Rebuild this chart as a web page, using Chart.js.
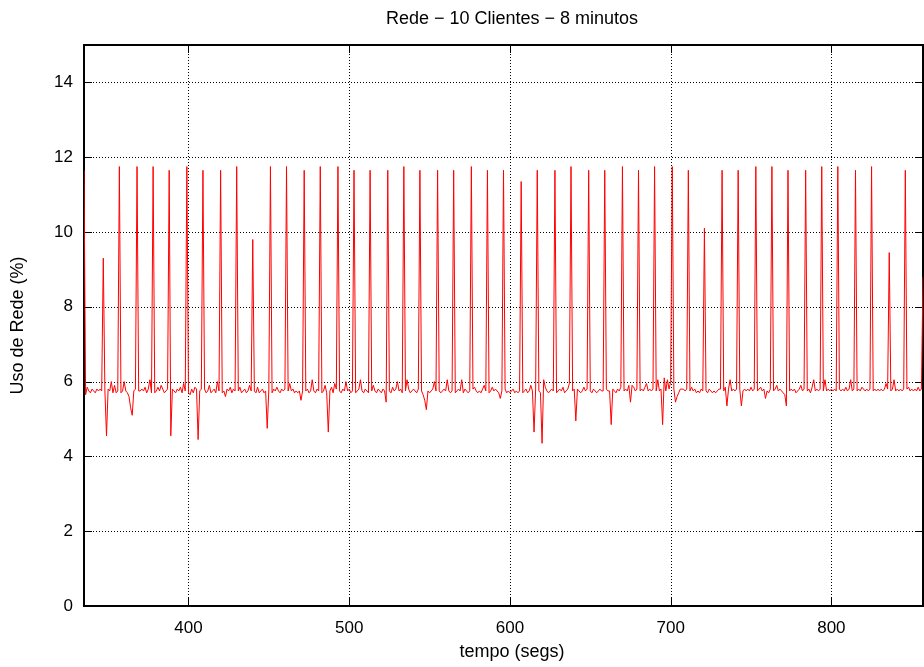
<!DOCTYPE html>
<html>
<head>
<meta charset="utf-8">
<title>Rede - 10 Clientes - 8 minutos</title>
<script src="https://cdn.jsdelivr.net/npm/chart.js@4.4.1/dist/chart.umd.min.js"></script>
<style>
  html, body { margin: 0; padding: 0; background: #fff; }
  canvas { display: block; }
</style>
</head>
<body>
<canvas id="chart" width="924" height="667"></canvas>
<script>
// first sample second, then one value per second (Uso de Rede %)
const startSecond = 335;
const usage = [
  11.65, 5.65, 5.85, 5.75, 5.7, 5.8, 5.75, 5.7, 5.8, 5.75,
  5.8, 5.75, 9.3, 5.75, 4.55, 5.8, 5.75, 6.0, 5.7, 5.9,
  5.7, 5.75, 11.75, 5.7, 5.75, 6.0, 5.75, 5.7, 5.6, 5.3,
  5.1, 5.75, 5.8, 11.75, 5.75, 5.75, 5.8, 5.75, 5.85, 5.7,
  5.8, 6.05, 5.7, 11.75, 5.7, 5.75, 5.85, 5.75, 5.9, 5.8,
  5.7, 5.75, 5.8, 11.65, 4.55, 5.8, 5.75, 5.7, 5.8, 5.75,
  5.85, 5.7, 5.95, 5.75, 11.75, 5.7, 5.65, 5.8, 5.7, 5.85,
  5.8, 4.45, 5.75, 5.8, 11.65, 5.8, 5.7, 5.75, 5.9, 5.7,
  5.75, 5.8, 5.7, 6.0, 5.75, 11.65, 5.7, 5.75, 5.6, 5.8,
  5.75, 5.85, 5.7, 5.8, 5.75, 11.75, 5.75, 5.85, 5.7, 5.75,
  5.8, 5.7, 5.75, 5.9, 5.75, 9.8, 5.75, 5.7, 5.85, 5.7,
  5.75, 5.8, 5.7, 5.75, 4.75, 5.8, 11.75, 5.7, 5.8, 5.75,
  5.85, 5.75, 5.7, 5.8, 5.75, 5.8, 11.75, 5.75, 5.95, 5.75,
  5.8, 5.7, 5.75, 5.7, 5.75, 5.5, 5.75, 11.65, 5.75, 5.8,
  5.7, 5.75, 6.05, 5.75, 5.7, 5.8, 5.75, 11.75, 5.7, 5.75,
  5.9, 5.7, 4.65, 5.75, 5.85, 5.7, 5.95, 5.8, 11.75, 5.75,
  5.7, 5.8, 5.75, 6.0, 5.75, 5.8, 5.7, 5.75, 11.65, 5.7,
  5.75, 5.8, 6.05, 5.75, 5.7, 5.8, 5.75, 5.7, 11.65, 5.75,
  5.9, 5.75, 5.7, 5.8, 5.75, 5.7, 5.8, 5.75, 5.45, 11.65,
  5.75, 5.7, 5.85, 5.75, 5.8, 6.0, 5.75, 5.8, 5.7, 11.75,
  5.75, 6.05, 5.8, 5.7, 5.75, 5.8, 5.75, 5.7, 5.8, 11.65,
  5.75, 5.65, 5.5, 5.25, 5.75, 5.7, 5.75, 5.8, 6.0, 5.75,
  11.65, 5.75, 5.7, 5.75, 5.8, 5.75, 6.05, 5.75, 5.7, 5.75,
  11.65, 5.7, 5.75, 5.8, 5.75, 6.05, 5.7, 5.8, 5.75, 5.7,
  5.75, 11.75, 5.8, 5.85, 5.75, 5.7, 5.75, 5.7, 5.8, 5.9,
  5.75, 11.65, 5.7, 5.75, 5.85, 5.75, 5.8, 5.75, 5.7, 5.55,
  5.75, 11.65, 5.8, 5.7, 5.75, 5.7, 5.75, 5.8, 5.7, 5.75,
  5.7, 5.75, 11.35, 5.7, 5.75, 5.8, 5.7, 5.75, 5.9, 5.75,
  4.65, 5.8, 11.65, 5.75, 5.7, 4.35, 6.05, 5.85, 5.75, 5.7,
  5.75, 5.8, 5.75, 11.65, 5.7, 5.75, 5.8, 5.75, 5.85, 5.7,
  5.75, 5.8, 5.95, 11.75, 5.75, 5.8, 4.95, 5.8, 5.75, 5.7,
  5.75, 5.85, 5.75, 5.8, 11.65, 5.75, 5.7, 5.8, 5.75, 5.7,
  5.75, 5.8, 5.75, 5.75, 11.65, 5.8, 5.75, 5.75, 4.85, 5.8,
  5.75, 5.7, 5.8, 5.75, 5.85, 11.75, 5.75, 5.8, 5.75, 5.9,
  5.45, 5.9, 5.85, 5.75, 5.8, 11.65, 5.75, 5.8, 5.75, 5.85,
  5.95, 5.75, 5.8, 5.75, 5.8, 11.75, 5.75, 6.05, 5.75, 5.8,
  4.85, 6.1, 5.75, 6.05, 5.8, 6.0, 11.75, 5.8, 5.45, 5.6,
  5.7, 5.8, 5.8, 5.8, 5.75, 5.8, 11.65, 5.75, 5.85, 5.75,
  5.8, 5.7, 5.75, 5.7, 5.8, 5.75, 10.1, 5.75, 5.7, 5.8,
  5.75, 5.7, 5.75, 5.7, 5.75, 5.8, 5.8, 11.65, 5.75, 5.85,
  5.35, 5.8, 6.05, 5.75, 5.8, 5.75, 5.8, 11.65, 5.8, 5.35,
  5.75, 5.8, 5.75, 5.8, 5.75, 5.85, 5.75, 5.8, 11.75, 5.75,
  5.8, 5.85, 5.75, 5.8, 5.55, 5.75, 5.7, 5.8, 11.75, 5.75,
  5.8, 5.9, 5.75, 5.8, 5.75, 5.7, 5.65, 5.35, 11.65, 5.75,
  5.8, 5.75, 5.8, 5.7, 5.75, 5.8, 5.9, 5.75, 5.8, 11.65,
  5.75, 5.8, 5.7, 5.85, 6.05, 5.75, 5.8, 5.75, 5.8, 11.75,
  5.75, 6.05, 5.75, 5.8, 5.75, 5.8, 5.75, 5.8, 5.75, 11.75,
  5.8, 5.75, 5.8, 5.75, 5.85, 5.75, 5.8, 6.05, 5.75, 5.8,
  11.65, 5.75, 5.8, 5.75, 5.85, 5.8, 5.75, 5.8, 5.75, 5.8,
  11.75, 5.75, 5.8, 5.75, 5.8, 5.75, 5.8, 5.75, 5.8, 5.95,
  5.8, 9.45, 5.75, 5.8, 6.05, 5.75, 5.8, 5.75, 5.8, 5.75,
  5.8, 11.65, 5.8, 5.85, 5.75, 5.8, 5.75, 5.8, 5.75, 5.85,
  5.75, 5.8, 8.8
];

const xTickValues = [400, 500, 600, 700, 800];
const yTickValues = [0, 2, 4, 6, 8, 10, 12, 14];

const chartTitle = 'Rede \u2212 10 Clientes \u2212 8 minutos';
const xTitle = 'tempo (segs)';
const yTitle = 'Uso de Rede (%)';

const fontFamily = '"Liberation Sans", Arial, Helvetica, sans-serif';
const tickFont = { family: fontFamily, size: 17, weight: 'normal' };
const titleFont = { family: fontFamily, size: 18, weight: 'normal' };

const points = usage.map(function(v, i) { return { x: startSecond + i, y: v }; });

// gnuplot style: dotted grid, black frame, ticks pointing inwards on all sides
const framePlugin = {
    id: 'gnuplotFrame',
    beforeDatasetsDraw(chart) {
        const ctx = chart.ctx;
        const a = chart.chartArea;
        const xs = chart.scales.x;
        const ys = chart.scales.y;
        const tick = 8;
        ctx.save();
        ctx.strokeStyle = '#000';
        ctx.lineWidth = 1;

        ctx.setLineDash([1, 2]);
        ctx.beginPath();
        xTickValues.forEach(function(v) {
            const px = Math.round(xs.getPixelForValue(v)) + 0.5;
            ctx.moveTo(px, a.top);
            ctx.lineTo(px, a.bottom);
        });
        yTickValues.forEach(function(v) {
            const py = Math.round(ys.getPixelForValue(v)) + 0.5;
            ctx.moveTo(a.left, py);
            ctx.lineTo(a.right, py);
        });
        ctx.stroke();

        ctx.setLineDash([]);
        ctx.beginPath();
        xTickValues.forEach(function(v) {
            const px = Math.round(xs.getPixelForValue(v)) + 0.5;
            ctx.moveTo(px, a.bottom);
            ctx.lineTo(px, a.bottom - tick);
            ctx.moveTo(px, a.top);
            ctx.lineTo(px, a.top + tick);
        });
        yTickValues.forEach(function(v) {
            const py = Math.round(ys.getPixelForValue(v)) + 0.5;
            ctx.moveTo(a.left, py);
            ctx.lineTo(a.left + tick, py);
            ctx.moveTo(a.right, py);
            ctx.lineTo(a.right - tick, py);
        });
        ctx.stroke();

        ctx.lineWidth = 2;
        ctx.strokeRect(Math.round(a.left), Math.round(a.top), Math.round(a.right - a.left), Math.round(a.bottom - a.top));
        ctx.restore();
    },
    afterDraw(chart) {
        // title and x label sit a bit right of the plot centre, as in the original
        const ctx = chart.ctx;
        ctx.save();
        ctx.fillStyle = '#000';
        ctx.font = titleFont.size + 'px ' + fontFamily;
        ctx.textAlign = 'center';
        ctx.textBaseline = 'middle';
        ctx.fillText(chartTitle, 512, 19);
        ctx.fillText(xTitle, 512, 652);
        ctx.restore();
    }
};

new Chart(document.getElementById('chart'), {
    type: 'line',
    data: {
        datasets: [{
            data: points,
            borderColor: '#ff0000',
            borderWidth: 1,
            pointRadius: 0,
            tension: 0,
            fill: false
        }]
    },
    options: {
        responsive: false,
        animation: false,
        devicePixelRatio: 1,
        layout: { padding: { left: 0, right: 1, top: 45, bottom: 0 } },
        plugins: {
            legend: { display: false },
            tooltip: { enabled: false },
            title: { display: false }
        },
        scales: {
            x: {
                type: 'linear',
                min: 335,
                max: 857,
                afterBuildTicks: function(s) { s.ticks = xTickValues.map(function(v) { return { value: v }; }); },
                afterFit: function(s) { s.height = 61; },
                grid: { display: false, drawTicks: false },
                border: { display: false },
                ticks: { color: '#000', font: tickFont, padding: 12, maxRotation: 0, autoSkip: false }
            },
            y: {
                type: 'linear',
                min: 0,
                max: 15,
                afterBuildTicks: function(s) { s.ticks = yTickValues.map(function(v) { return { value: v }; }); },
                afterFit: function(s) { s.width = 84; },
                grid: { display: false, drawTicks: false },
                border: { display: false },
                ticks: { color: '#000', font: tickFont, padding: 11, autoSkip: false },
                title: { display: true, text: yTitle, color: '#000', font: titleFont, padding: { top: 7, bottom: 0 } }
            }
        }
    },
    plugins: [framePlugin]
});
</script>
</body>
</html>
